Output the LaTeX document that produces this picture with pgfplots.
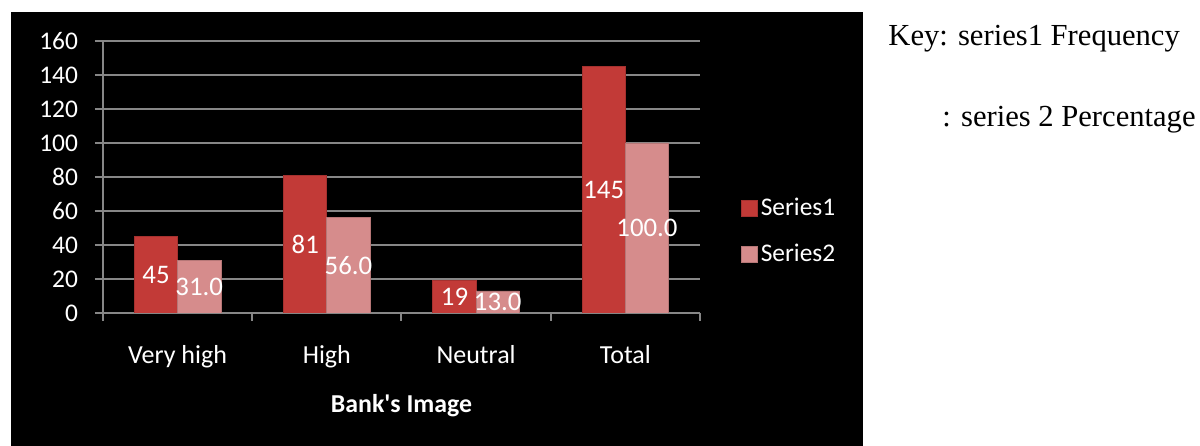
\documentclass[border=0pt]{standalone}
\usepackage{pgfplots}
\pgfplotsset{compat=1.18}
\usepackage{fontspec}
\setmainfont{Carlito}
\newfontfamily\calib{Carlito}
\newfontfamily\timesfont{Liberation Serif}
\definecolor{sone}{RGB}{194,58,55}
\definecolor{stwo}{RGB}{214,140,140}
\definecolor{gridgray}{RGB}{134,134,134}
\begin{document}
\begin{tikzpicture}
\path[use as bounding box, fill=white] (0,0) rectangle (600bp,223bp);
\fill[black] (5.5bp,0) rectangle (431.5bp,217bp);
\node[anchor=base west, font=\timesfont\fontsize{15.3bp}{18bp}\selectfont, inner sep=0] at (444bp,200bp) {Key: series1 Frequency};
\node[anchor=base west, font=\timesfont\fontsize{15.3bp}{18bp}\selectfont, inner sep=0] at (471bp,159.5bp) {: series 2 Percentage};
\begin{axis}[
  at={(51.5bp,66.5bp)}, anchor=south west,
  scale only axis, width=298.5bp, height=136bp,
  ymin=0, ymax=160, ytick={0,20,...,160},
  xmin=-0.5, xmax=3.5,
  xtick={0,1,2,3}, xticklabels={Very high,High,Neutral,Total},
  minor xtick={-0.5,0.5,1.5,2.5,3.5},
  every major x tick/.append style={draw=none},
  tick align=outside, major tick length=4bp, minor tick length=4bp,
  axis x line*=bottom, axis y line*=left,
  axis line style={gridgray, line width=1bp, -},
  every tick/.append style={gridgray, line width=1bp},
  ymajorgrids, major grid style={gridgray, line width=1bp},
  /pgf/number format/assume math mode=true,
  tick label style={font=\fontsize{12.7bp}{15bp}\selectfont, text=white},
  yticklabel style={xshift=-5bp},
  xticklabel style={yshift=-8.5bp, font=\fontsize{13bp}{15bp}\selectfont},
  xlabel={\calib\bfseries Bank's Image},
  xlabel style={at={(axis description cs:0.5,-0.342)}, anchor=center, text=white, font=\bfseries\fontsize{12.9bp}{15bp}\selectfont},
  legend style={at={(1.068,0.30)}, anchor=west, draw=none, fill=none, text=white,
    font=\fontsize{12.7bp}{15bp}\selectfont, row sep=9.5bp, inner sep=0pt,
    nodes={inner sep=1.5bp}},
  legend cell align=left,
  legend image code/.code={\fill[#1] (0bp,-4bp) rectangle (8bp,4bp);},
  visualization depends on={rawy \as \rawy},
  nodes near coords style={anchor=center, yshift={-0.425*\rawy bp}, text=white, font=\fontsize{13.4bp}{15bp}\selectfont},
]
\addplot[ybar, bar width=0.29, bar shift=-0.145, fill=sone, draw=sone!85!black,
  nodes near coords={\pgfmathprintnumber{\pgfplotspointmeta}},
  nodes near coords style={xshift=-10.8bp}]
  coordinates {(0,45) (1,81) (2,19) (3,145)};
\addlegendentry{Series1}
\addplot[ybar, bar width=0.29, bar shift=0.145, fill=stwo, draw=stwo!85!black,
  nodes near coords={\pgfmathprintnumber[fixed,fixed zerofill,precision=1]{\pgfplotspointmeta}},
  nodes near coords style={xshift=10.8bp}]
  coordinates {(0,31.0) (1,56.0) (2,13.0) (3,100.0)};
\addlegendentry{Series2}
\end{axis}
\end{tikzpicture}
\end{document}
